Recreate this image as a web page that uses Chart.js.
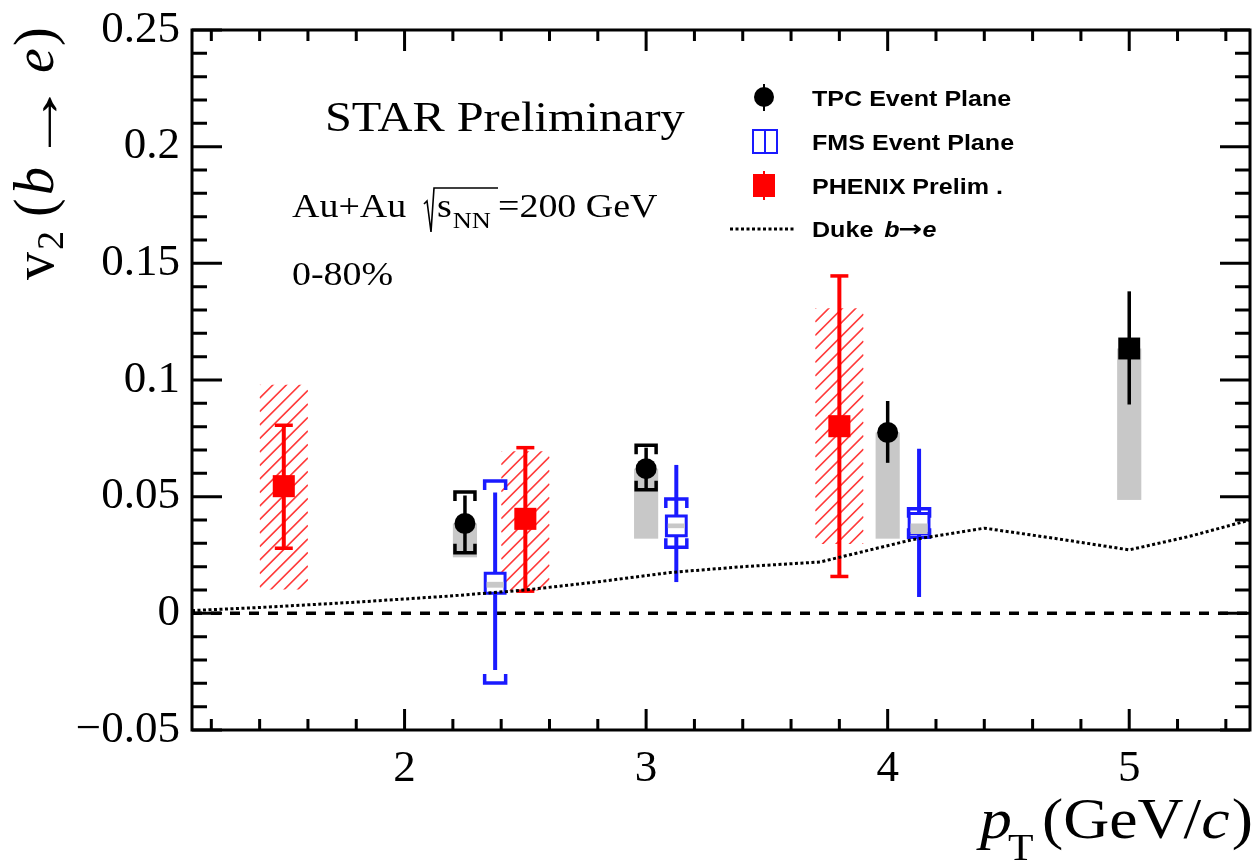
<!DOCTYPE html>
<html>
<head>
<meta charset="utf-8">
<script src="https://cdn.jsdelivr.net/npm/chart.js@4.4.0/dist/chart.umd.min.js"></script>
<style>
  html, body { margin: 0; padding: 0; background: #fff; overflow: hidden; }
  canvas { display: block; }
</style>
</head>
<body>
<canvas id="v2chart" width="1254" height="860" style="width:1254px;height:860px"></canvas>
<script>
// STAR TPC event plane
const tpcPt = [2.25, 3.0, 4.0, 5.0];
const tpcV2 = [0.0385, 0.062, 0.0775, 0.1135];
const tpcStatLo = [0.0265, 0.053, 0.0645, 0.0895];
const tpcStatHi = [0.0505, 0.071, 0.091, 0.138];
const tpcSysLo = [0.026, 0.053, null, null];
const tpcSysHi = [0.052, 0.072, null, null];
const tpcBoxLo = [0.024, 0.032, 0.032, 0.0486];
const tpcBoxHi = [0.0385, 0.062, 0.0775, 0.1135];
const tpcMarker = ['circle', 'circle', 'circle', 'rect'];

// STAR FMS event plane
const fmsPt = [2.375, 3.125, 4.13];
const fmsV2 = [0.0129, 0.0375, 0.0385];
const fmsStatLo = [-0.0243, 0.0134, 0.007];
const fmsStatHi = [0.0518, 0.0636, 0.0705];
const fmsSysLo = [-0.0299, 0.0283, 0.0326];
const fmsSysHi = [0.0567, 0.049, 0.0448];
const fmsBoxLo = [0.011, 0.0365, 0.034];
const fmsBoxHi = [0.0135, 0.0385, 0.0385];

// PHENIX preliminary
const phxPt = [1.5, 2.5, 3.8];
const phxV2 = [0.0545, 0.0405, 0.0802];
const phxStatLo = [0.0279, 0.0095, 0.0158];
const phxStatHi = [0.0806, 0.071, 0.1446];
const phxSysLo = [0.0102, 0.0098, 0.0297];
const phxSysHi = [0.098, 0.0695, 0.1307];

// Duke model b -> e
const dukePt = [1.12, 1.4, 1.8, 2.2, 2.5, 2.8, 3.1, 3.4, 3.72, 4.1, 4.4, 4.7, 5.0, 5.25, 5.5];
const dukeV2 = [0.0012, 0.0025, 0.0048, 0.0075, 0.010, 0.0135, 0.0175, 0.020, 0.022, 0.0315, 0.0365, 0.032, 0.0272, 0.033, 0.040];

const xRange = [1.12, 5.5];
const yRange = [-0.05, 0.25];

const BLUE = '#1a1aff';
const RED = '#ff0000';
const GRAY = '#c8c8c8';

function pts(xs, ys) {
  return xs.map((x, i) => ({ x: x, y: ys[i] }));
}

// text drawn a bit wider than the font, like the original
function sText(ctx, str, x, y, font, sx) {
  ctx.save();
  ctx.font = font;
  ctx.translate(x, y);
  ctx.scale(sx, 1);
  ctx.fillText(str, 0, 0);
  const w = ctx.measureText(str).width * sx;
  ctx.restore();
  return w;
}

function bracket(ctx, px, py, dir, half, tick) {
  ctx.beginPath();
  ctx.moveTo(px - half, py + dir * tick);
  ctx.lineTo(px - half, py);
  ctx.lineTo(px + half, py);
  ctx.lineTo(px + half, py + dir * tick);
  ctx.stroke();
}

const decorPlugin = {
  id: 'decor',
  beforeDatasetsDraw(chart) {
    const ctx = chart.ctx;
    const xs = chart.scales.x, ys = chart.scales.y;
    const a = chart.chartArea;
    ctx.save();
    ctx.beginPath();
    ctx.rect(a.left, a.top, a.right - a.left, a.bottom - a.top);
    ctx.clip();

    // PHENIX hatched systematics
    phxPt.forEach((x, i) => {
      const l = xs.getPixelForValue(x - 0.1), r = xs.getPixelForValue(x + 0.1);
      const t = ys.getPixelForValue(phxSysHi[i]), b = ys.getPixelForValue(phxSysLo[i]);
      ctx.save();
      ctx.beginPath();
      ctx.rect(l, t, r - l, b - t);
      ctx.clip();
      ctx.strokeStyle = '#ff3b3b';
      ctx.lineWidth = 1.6;
      ctx.beginPath();
      for (let k = t - (r - l); k < b + 14; k += 13.5) {
        ctx.moveTo(l, k + (r - l));
        ctx.lineTo(r, k);
      }
      ctx.stroke();
      ctx.restore();
    });

    // TPC gray boxes
    ctx.fillStyle = GRAY;
    tpcPt.forEach((x, i) => {
      const l = xs.getPixelForValue(x - 0.05), r = xs.getPixelForValue(x + 0.05);
      const t = ys.getPixelForValue(tpcBoxHi[i]), b = ys.getPixelForValue(tpcBoxLo[i]);
      ctx.fillRect(l, t, r - l, b - t);
    });

    // zero line
    ctx.strokeStyle = '#000';
    ctx.lineWidth = 3.5;
    ctx.setLineDash([10, 9]);
    ctx.beginPath();
    ctx.moveTo(a.left, ys.getPixelForValue(0));
    ctx.lineTo(a.right, ys.getPixelForValue(0));
    ctx.stroke();
    ctx.setLineDash([]);

    // error bars
    const bars = [
      [tpcPt, tpcStatLo, tpcStatHi, '#000', 3.5],
      [fmsPt, fmsStatLo, fmsStatHi, BLUE, 4],
      [phxPt, phxStatLo, phxStatHi, RED, 4]
    ];
    bars.forEach(([px, lo, hi, col, w]) => {
      ctx.strokeStyle = col;
      ctx.lineWidth = w;
      px.forEach((x, i) => {
        const cx = xs.getPixelForValue(x);
        ctx.beginPath();
        ctx.moveTo(cx, ys.getPixelForValue(lo[i]));
        ctx.lineTo(cx, ys.getPixelForValue(hi[i]));
        ctx.stroke();
      });
    });

    // PHENIX caps
    ctx.strokeStyle = RED;
    ctx.lineWidth = 3.5;
    phxPt.forEach((x, i) => {
      const cx = xs.getPixelForValue(x);
      [phxStatLo[i], phxStatHi[i]].forEach(v => {
        const py = ys.getPixelForValue(v);
        ctx.beginPath();
        ctx.moveTo(cx - 9, py);
        ctx.lineTo(cx + 9, py);
        ctx.stroke();
      });
    });

    // brackets
    ctx.lineWidth = 3.5;
    ctx.strokeStyle = '#000';
    tpcPt.forEach((x, i) => {
      if (tpcSysHi[i] === null) return;
      const cx = xs.getPixelForValue(x);
      bracket(ctx, cx, ys.getPixelForValue(tpcSysHi[i]), 1, 10, 9);
      bracket(ctx, cx, ys.getPixelForValue(tpcSysLo[i]), -1, 10, 9);
    });
    ctx.strokeStyle = BLUE;
    fmsPt.forEach((x, i) => {
      const cx = xs.getPixelForValue(x);
      bracket(ctx, cx, ys.getPixelForValue(fmsSysHi[i]), 1, 10.5, 9);
      bracket(ctx, cx, ys.getPixelForValue(fmsSysLo[i]), -1, 10.5, 9);
    });
    ctx.restore();
  },
  afterDatasetsDraw(chart) {
    const ctx = chart.ctx;
    const xs = chart.scales.x, ys = chart.scales.y;
    ctx.save();
    ctx.fillStyle = GRAY;
    fmsPt.forEach((x, i) => {
      const cx = xs.getPixelForValue(x);
      const t = ys.getPixelForValue(fmsBoxHi[i]), b = ys.getPixelForValue(fmsBoxLo[i]);
      ctx.fillRect(cx - 8.5, t, 17, Math.max(b - t, 2));
    });
    ctx.restore();
  },
  afterDraw(chart) {
    const ctx = chart.ctx;
    const xs = chart.scales.x, ys = chart.scales.y;
    const a = chart.chartArea;
    ctx.save();
    // frame + ticks
    ctx.strokeStyle = '#000';
    ctx.lineWidth = 3;
    ctx.strokeRect(a.left, a.top, a.right - a.left, a.bottom - a.top);
    ctx.beginPath();
    for (let i = -5; i <= 25; i++) {
      const py = ys.getPixelForValue(i / 100);
      const len = (i % 5 === 0) ? 30 : 15;
      ctx.moveTo(a.left, py); ctx.lineTo(a.left + len, py);
      ctx.moveTo(a.right, py); ctx.lineTo(a.right - len, py);
    }
    for (let i = 6; i <= 27; i++) {
      const px = xs.getPixelForValue(i * 0.2);
      const len = (i % 5 === 0) ? 21 : 11;
      ctx.moveTo(px, a.bottom); ctx.lineTo(px, a.bottom - len);
      ctx.moveTo(px, a.top); ctx.lineTo(px, a.top + len);
    }
    ctx.stroke();

    // labels inside the frame
    ctx.fillStyle = '#000';
    ctx.textBaseline = 'alphabetic';
    const serif = '"Liberation Serif", "Times New Roman", serif';
    sText(ctx, 'STAR Preliminary', 325, 131, '42px ' + serif, 1.15);

    let cx = 292;
    cx += sText(ctx, 'Au+Au', cx, 217, '33px ' + serif, 1.15);
    ctx.lineWidth = 1.6;
    ctx.beginPath();
    ctx.moveTo(424, 204); ctx.lineTo(427, 201); ctx.lineTo(431, 232);
    ctx.lineTo(434, 188); ctx.lineTo(498, 188);
    ctx.stroke();
    let sx2 = 437;
    sx2 += sText(ctx, 's', sx2, 217, '33px ' + serif, 1.15);
    sText(ctx, 'NN', sx2 + 1, 228, '23px ' + serif, 1.15);
    sText(ctx, '=200 GeV', 498, 217, '33px ' + serif, 1.15);
    sText(ctx, '0-80%', 292, 285, '33px ' + serif, 1.15);

    // legend
    const sans = 'bold 22px "Liberation Sans", Arial, "DejaVu Sans", sans-serif';
    const sansIt = 'italic bold 22px "Liberation Sans", Arial, "DejaVu Sans", sans-serif';
    sText(ctx, 'TPC Event Plane', 812, 106, sans, 1.14);
    sText(ctx, 'FMS Event Plane', 812, 150, sans, 1.14);
    sText(ctx, 'PHENIX Prelim .', 812, 194, sans, 1.14);
    let lx = 812;
    lx += sText(ctx, 'Duke ', lx, 237, sans, 1.14);
    lx += 4;
    lx += sText(ctx, 'b', lx, 237, sansIt, 1.14);
    lx += sText(ctx, '\u2192', lx - 1, 236, 'bold 22px "DejaVu Sans", sans-serif', 1.3);
    sText(ctx, 'e', lx - 1, 237, sansIt, 1.14);

    ctx.fillStyle = '#000';
    ctx.beginPath(); ctx.arc(764, 97, 10, 0, Math.PI * 2); ctx.fill();
    ctx.lineWidth = 2;
    ctx.beginPath(); ctx.moveTo(764, 84); ctx.lineTo(764, 111); ctx.stroke();
    ctx.strokeStyle = BLUE;
    ctx.lineWidth = 2;
    ctx.strokeRect(753, 130, 24, 23);
    ctx.beginPath(); ctx.moveTo(765, 130); ctx.lineTo(765, 153); ctx.stroke();
    ctx.fillStyle = RED;
    ctx.fillRect(753, 174, 22, 23);
    ctx.strokeStyle = RED;
    ctx.beginPath(); ctx.moveTo(764, 171); ctx.lineTo(764, 200); ctx.stroke();
    ctx.strokeStyle = '#000';
    ctx.lineWidth = 3;
    ctx.setLineDash([3, 2.5]);
    ctx.beginPath(); ctx.moveTo(730, 229); ctx.lineTo(795, 229); ctx.stroke();
    ctx.setLineDash([]);

    // y axis title, rotated
    ctx.fillStyle = '#000';
    ctx.save();
    ctx.translate(53, 283);
    ctx.rotate(-Math.PI / 2);
    ctx.font = '56px ' + serif;
    ctx.fillText('v', 3, 0);
    ctx.font = '38px ' + serif;
    ctx.fillText('2', 33, 10);
    ctx.font = '56px ' + serif;
    ctx.fillText('(', 66, 0);
    ctx.font = 'italic 56px ' + serif;
    ctx.fillText('b', 88, 0);
    // long arrow: stretch the glyph so its visible part spans ~51px
    ctx.font = '56px ' + serif;
    const am = ctx.measureText('\u2192');
    const gL = -am.actualBoundingBoxLeft, gR = am.actualBoundingBoxRight;
    const asx = 51 / Math.max(gR - gL, 1);
    sText(ctx, '\u2192', 135 - gL * asx, 6, '56px ' + serif, asx);
    ctx.font = 'italic 56px ' + serif;
    ctx.fillText('e', 210, 0);
    ctx.font = '56px ' + serif;
    ctx.fillText(')', 237, 0);
    ctx.restore();

    // x axis title
    let tx = 980;
    tx += sText(ctx, 'p', tx, 838, 'italic 58px ' + serif, 1.1);
    sText(ctx, 'T', tx - 4, 860, '38px ' + serif, 1.1);
    tx += 30;
    tx += sText(ctx, '(GeV/', tx, 838, '58px ' + serif, 1.1);
    tx += sText(ctx, 'c', tx, 838, 'italic 58px ' + serif, 1.1);
    sText(ctx, ')', tx + 2, 838, '58px ' + serif, 1.1);
    ctx.restore();
  }
};

const ctx = document.getElementById('v2chart').getContext('2d');
new Chart(ctx, {
  type: 'scatter',
  data: {
    datasets: [
      {
        label: 'Duke b\u2192e',
        data: pts(dukePt, dukeV2),
        showLine: true,
        borderColor: '#000',
        borderWidth: 3,
        borderDash: [3, 2.5],
        pointRadius: 0,
        fill: false
      },
      {
        label: 'TPC Event Plane',
        data: pts(tpcPt, tpcV2),
        pointStyle: tpcMarker,
        pointRadius: [10.5, 10.5, 10.5, 15.5],
        backgroundColor: '#000',
        borderWidth: 0
      },
      {
        label: 'FMS Event Plane',
        data: pts(fmsPt, fmsV2),
        pointStyle: 'rect',
        pointRadius: 14,
        backgroundColor: '#fff',
        borderColor: BLUE,
        borderWidth: 3
      },
      {
        label: 'PHENIX Prelim',
        data: pts(phxPt, phxV2),
        pointStyle: 'rect',
        pointRadius: 15.6,
        backgroundColor: RED,
        borderWidth: 0
      }
    ]
  },
  options: {
    responsive: false,
    animation: false,
    layout: { autoPadding: false, padding: { top: 30, right: 4, left: 0, bottom: 0 } },
    plugins: { legend: { display: false }, tooltip: { enabled: false } },
    scales: {
      x: {
        type: 'linear',
        min: xRange[0],
        max: xRange[1],
        grid: { display: false, drawTicks: false },
        border: { display: false },
        ticks: {
          stepSize: 1,
          includeBounds: false,
          autoSkip: false,
          maxRotation: 0,
          padding: 12,
          color: '#000',
          font: { family: '"Liberation Serif", serif', size: 45 },
          callback: v => String(v)
        },
        afterFit: s => { s.height = 130; }
      },
      y: {
        type: 'linear',
        min: yRange[0],
        max: yRange[1],
        grid: { display: false, drawTicks: false },
        border: { display: false },
        ticks: {
          stepSize: 0.05,
          autoSkip: false,
          padding: 12,
          color: '#000',
          font: { family: '"Liberation Serif", serif', size: 45, lineHeight: 0.6 },
          callback: v => {
            const r = Math.round(v * 1000) / 1000;
            return r < 0 ? '\u2212' + String(-r) : String(r);
          }
        },
        afterFit: s => { s.width = 192; }
      }
    }
  },
  plugins: [decorPlugin]
});
</script>
</body>
</html>
